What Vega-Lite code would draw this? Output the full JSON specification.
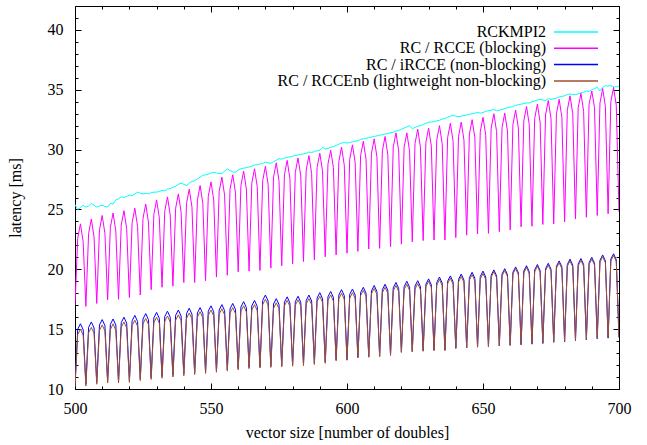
{
  "$schema": "https://vega.github.io/schema/vega-lite/v6.json",
  "width": 544,
  "height": 383,
  "autosize": {"type": "none"},
  "padding": {"left": 75, "top": 6, "right": 28, "bottom": 56},
  "background": "white",
  "config": {
    "view": {"stroke": "black", "strokeWidth": 1},
    "font": "Liberation Serif",
    "text": {"font": "Liberation Serif"},
    "axis": {"labelFont": "Liberation Serif", "labelFontSize": 16, "labelColor": "black", "titleFont": "Liberation Serif", "titleFontSize": 16, "titleFontWeight": "normal", "titleColor": "black", "domain": false, "grid": false, "tickColor": "black", "tickWidth": 1, "labelOverlap": false, "labelFlush": false},
    "legend": {"labelFont": "Liberation Serif", "labelLimit": 400}
  },
  "data": {"values": [
    {"x":500,"m":25.4,"r":17.0,"i":10.3,"n":10.15},
    {"x":501,"m":25.0,"r":22.6,"i":15.0,"n":14.55},
    {"x":502,"m":25.15,"r":23.8,"i":15.45,"n":15.0},
    {"x":503,"m":25.35,"r":22.3,"i":14.95,"n":14.5},
    {"x":504,"m":25.2,"r":16.9,"i":10.4,"n":10.25},
    {"x":505,"m":25.3,"r":23.0,"i":15.15,"n":14.7},
    {"x":506,"m":25.5,"r":24.2,"i":15.6,"n":15.15},
    {"x":507,"m":25.35,"r":22.7,"i":15.1,"n":14.65},
    {"x":508,"m":25.2,"r":17.15,"i":10.55,"n":10.4},
    {"x":509,"m":25.3,"r":23.3,"i":15.35,"n":14.9},
    {"x":510,"m":25.35,"r":24.5,"i":15.8,"n":15.35},
    {"x":511,"m":25.25,"r":23.0,"i":15.3,"n":14.85},
    {"x":512,"m":25.2,"r":17.45,"i":10.65,"n":10.5},
    {"x":513,"m":25.5,"r":23.5,"i":15.4,"n":14.95},
    {"x":514,"m":25.45,"r":24.7,"i":15.85,"n":15.45},
    {"x":515,"m":25.8,"r":23.2,"i":15.35,"n":14.9},
    {"x":516,"m":25.9,"r":17.5,"i":10.65,"n":10.5},
    {"x":517,"m":26.05,"r":23.7,"i":15.55,"n":15.15},
    {"x":518,"m":26.0,"r":24.9,"i":16.0,"n":15.6},
    {"x":519,"m":26.1,"r":23.4,"i":15.5,"n":15.1},
    {"x":520,"m":26.2,"r":17.65,"i":10.7,"n":10.55},
    {"x":521,"m":26.15,"r":23.9,"i":15.7,"n":15.3},
    {"x":522,"m":26.3,"r":25.1,"i":16.15,"n":15.75},
    {"x":523,"m":26.45,"r":23.6,"i":15.65,"n":15.25},
    {"x":524,"m":26.35,"r":17.85,"i":10.85,"n":10.7},
    {"x":525,"m":26.3,"r":24.25,"i":15.85,"n":15.45},
    {"x":526,"m":26.35,"r":25.45,"i":16.3,"n":15.9},
    {"x":527,"m":26.3,"r":23.95,"i":15.8,"n":15.4},
    {"x":528,"m":26.4,"r":18.3,"i":10.95,"n":10.8},
    {"x":529,"m":26.45,"r":24.6,"i":15.95,"n":15.55},
    {"x":530,"m":26.45,"r":25.8,"i":16.4,"n":16.0},
    {"x":531,"m":26.5,"r":24.3,"i":15.9,"n":15.5},
    {"x":532,"m":26.6,"r":18.5,"i":11.05,"n":10.9},
    {"x":533,"m":26.55,"r":24.85,"i":16.05,"n":15.65},
    {"x":534,"m":26.7,"r":26.05,"i":16.5,"n":16.1},
    {"x":535,"m":26.75,"r":24.55,"i":16.0,"n":15.6},
    {"x":536,"m":26.85,"r":18.6,"i":11.15,"n":11.0},
    {"x":537,"m":26.95,"r":25.1,"i":16.15,"n":15.75},
    {"x":538,"m":27.1,"r":26.3,"i":16.6,"n":16.2},
    {"x":539,"m":27.2,"r":24.8,"i":16.1,"n":15.7},
    {"x":540,"m":27.1,"r":18.9,"i":11.25,"n":11.1},
    {"x":541,"m":27.0,"r":25.5,"i":16.3,"n":15.9},
    {"x":542,"m":27.2,"r":26.7,"i":16.75,"n":16.35},
    {"x":543,"m":27.35,"r":25.2,"i":16.25,"n":15.85},
    {"x":544,"m":27.4,"r":18.9,"i":11.35,"n":11.2},
    {"x":545,"m":27.55,"r":25.8,"i":16.35,"n":16.0},
    {"x":546,"m":27.7,"r":27.0,"i":16.8,"n":16.45},
    {"x":547,"m":27.85,"r":25.5,"i":16.3,"n":15.95},
    {"x":548,"m":27.9,"r":19.05,"i":11.4,"n":11.3},
    {"x":549,"m":27.95,"r":26.1,"i":16.5,"n":16.15},
    {"x":550,"m":28.05,"r":27.3,"i":16.95,"n":16.6},
    {"x":551,"m":28.1,"r":25.8,"i":16.45,"n":16.1},
    {"x":552,"m":28.05,"r":19.35,"i":11.5,"n":11.4},
    {"x":553,"m":28.0,"r":26.5,"i":16.6,"n":16.25},
    {"x":554,"m":28.0,"r":27.7,"i":17.05,"n":16.7},
    {"x":555,"m":28.2,"r":26.2,"i":16.55,"n":16.2},
    {"x":556,"m":28.4,"r":19.5,"i":11.6,"n":11.5},
    {"x":557,"m":28.25,"r":26.7,"i":16.7,"n":16.35},
    {"x":558,"m":28.15,"r":27.9,"i":17.15,"n":16.8},
    {"x":559,"m":28.1,"r":26.4,"i":16.65,"n":16.3},
    {"x":560,"m":28.3,"r":19.8,"i":11.7,"n":11.6},
    {"x":561,"m":28.4,"r":27.0,"i":16.85,"n":16.5},
    {"x":562,"m":28.45,"r":28.2,"i":17.3,"n":16.95},
    {"x":563,"m":28.5,"r":26.7,"i":16.8,"n":16.45},
    {"x":564,"m":28.55,"r":19.85,"i":11.8,"n":11.7},
    {"x":565,"m":28.6,"r":27.2,"i":16.95,"n":16.6},
    {"x":566,"m":28.7,"r":28.4,"i":17.4,"n":17.05},
    {"x":567,"m":28.75,"r":26.9,"i":16.9,"n":16.55},
    {"x":568,"m":28.8,"r":19.9,"i":11.85,"n":11.75},
    {"x":569,"m":28.85,"r":27.4,"i":17.4,"n":17.05},
    {"x":570,"m":28.95,"r":28.6,"i":17.85,"n":17.5},
    {"x":571,"m":28.9,"r":27.1,"i":17.35,"n":17.0},
    {"x":572,"m":28.85,"r":20.1,"i":11.9,"n":11.8},
    {"x":573,"m":29.0,"r":27.7,"i":17.1,"n":16.75},
    {"x":574,"m":29.1,"r":28.9,"i":17.55,"n":17.2},
    {"x":575,"m":29.25,"r":27.4,"i":17.05,"n":16.7},
    {"x":576,"m":29.2,"r":20.3,"i":11.95,"n":11.85},
    {"x":577,"m":29.3,"r":27.9,"i":17.25,"n":16.95},
    {"x":578,"m":29.35,"r":29.1,"i":17.7,"n":17.4},
    {"x":579,"m":29.4,"r":27.6,"i":17.2,"n":16.9},
    {"x":580,"m":29.45,"r":20.45,"i":12.0,"n":11.9},
    {"x":581,"m":29.5,"r":28.1,"i":17.3,"n":17.0},
    {"x":582,"m":29.55,"r":29.3,"i":17.75,"n":17.45},
    {"x":583,"m":29.6,"r":27.8,"i":17.25,"n":16.95},
    {"x":584,"m":29.65,"r":20.65,"i":12.05,"n":11.95},
    {"x":585,"m":29.7,"r":28.3,"i":17.4,"n":17.1},
    {"x":586,"m":29.8,"r":29.5,"i":17.85,"n":17.55},
    {"x":587,"m":29.75,"r":28.0,"i":17.35,"n":17.05},
    {"x":588,"m":29.85,"r":20.8,"i":12.15,"n":12.05},
    {"x":589,"m":29.9,"r":28.5,"i":17.6,"n":17.3},
    {"x":590,"m":29.95,"r":29.7,"i":18.05,"n":17.75},
    {"x":591,"m":30.2,"r":28.2,"i":17.55,"n":17.25},
    {"x":592,"m":30.05,"r":21.05,"i":12.25,"n":12.15},
    {"x":593,"m":30.1,"r":28.8,"i":17.7,"n":17.4},
    {"x":594,"m":30.2,"r":29.95,"i":18.15,"n":17.85},
    {"x":595,"m":30.25,"r":28.5,"i":17.65,"n":17.35},
    {"x":596,"m":30.35,"r":21.2,"i":12.45,"n":12.35},
    {"x":597,"m":30.45,"r":29.0,"i":17.85,"n":17.55},
    {"x":598,"m":30.55,"r":30.2,"i":18.3,"n":18.0},
    {"x":599,"m":30.6,"r":28.7,"i":17.8,"n":17.5},
    {"x":600,"m":30.55,"r":21.35,"i":12.45,"n":12.4},
    {"x":601,"m":30.6,"r":29.2,"i":17.9,"n":17.6},
    {"x":602,"m":30.65,"r":30.4,"i":18.35,"n":18.05},
    {"x":603,"m":30.7,"r":28.9,"i":17.85,"n":17.55},
    {"x":604,"m":30.75,"r":21.5,"i":12.65,"n":12.6},
    {"x":605,"m":30.85,"r":29.5,"i":18.05,"n":17.8},
    {"x":606,"m":30.9,"r":30.7,"i":18.5,"n":18.25},
    {"x":607,"m":30.95,"r":29.2,"i":18.0,"n":17.75},
    {"x":608,"m":31.0,"r":21.7,"i":12.7,"n":12.65},
    {"x":609,"m":31.05,"r":29.7,"i":18.2,"n":17.95},
    {"x":610,"m":31.1,"r":30.9,"i":18.65,"n":18.4},
    {"x":611,"m":31.15,"r":29.4,"i":18.15,"n":17.9},
    {"x":612,"m":31.2,"r":21.75,"i":12.75,"n":12.7},
    {"x":613,"m":31.25,"r":29.9,"i":18.3,"n":18.05},
    {"x":614,"m":31.3,"r":31.1,"i":18.75,"n":18.5},
    {"x":615,"m":31.35,"r":29.6,"i":18.25,"n":18.0},
    {"x":616,"m":31.4,"r":21.9,"i":12.85,"n":12.8},
    {"x":617,"m":31.45,"r":30.2,"i":18.45,"n":18.2},
    {"x":618,"m":31.55,"r":31.4,"i":18.9,"n":18.65},
    {"x":619,"m":31.6,"r":29.9,"i":18.4,"n":18.15},
    {"x":620,"m":31.7,"r":22.1,"i":13.1,"n":13.05},
    {"x":621,"m":31.8,"r":30.2,"i":18.55,"n":18.3},
    {"x":622,"m":31.9,"r":31.4,"i":19.0,"n":18.75},
    {"x":623,"m":32.0,"r":29.9,"i":18.5,"n":18.25},
    {"x":624,"m":31.75,"r":22.3,"i":13.15,"n":13.1},
    {"x":625,"m":31.85,"r":30.5,"i":18.6,"n":18.35},
    {"x":626,"m":31.95,"r":31.7,"i":19.05,"n":18.8},
    {"x":627,"m":32.0,"r":30.2,"i":18.55,"n":18.3},
    {"x":628,"m":32.1,"r":22.4,"i":13.2,"n":13.15},
    {"x":629,"m":32.2,"r":30.6,"i":18.75,"n":18.55},
    {"x":630,"m":32.3,"r":31.8,"i":19.2,"n":19.0},
    {"x":631,"m":32.3,"r":30.3,"i":18.7,"n":18.5},
    {"x":632,"m":32.35,"r":22.45,"i":13.25,"n":13.2},
    {"x":633,"m":32.4,"r":30.8,"i":18.9,"n":18.7},
    {"x":634,"m":32.45,"r":32.0,"i":19.35,"n":19.15},
    {"x":635,"m":32.55,"r":30.5,"i":18.85,"n":18.65},
    {"x":636,"m":32.6,"r":22.45,"i":13.25,"n":13.2},
    {"x":637,"m":32.7,"r":31.0,"i":19.0,"n":18.8},
    {"x":638,"m":32.8,"r":32.2,"i":19.45,"n":19.25},
    {"x":639,"m":32.85,"r":30.7,"i":18.95,"n":18.75},
    {"x":640,"m":32.8,"r":22.65,"i":13.4,"n":13.4},
    {"x":641,"m":32.75,"r":31.1,"i":19.15,"n":18.95},
    {"x":642,"m":32.8,"r":32.3,"i":19.6,"n":19.4},
    {"x":643,"m":32.85,"r":30.8,"i":19.1,"n":18.9},
    {"x":644,"m":32.9,"r":22.85,"i":13.45,"n":13.45},
    {"x":645,"m":32.95,"r":31.3,"i":19.3,"n":19.1},
    {"x":646,"m":33.0,"r":32.5,"i":19.75,"n":19.55},
    {"x":647,"m":33.05,"r":31.0,"i":19.25,"n":19.05},
    {"x":648,"m":33.1,"r":22.95,"i":13.5,"n":13.5},
    {"x":649,"m":33.05,"r":31.5,"i":19.4,"n":19.2},
    {"x":650,"m":33.1,"r":32.7,"i":19.85,"n":19.65},
    {"x":651,"m":33.2,"r":31.2,"i":19.35,"n":19.15},
    {"x":652,"m":33.25,"r":23.0,"i":13.55,"n":13.55},
    {"x":653,"m":33.3,"r":31.8,"i":19.5,"n":19.35},
    {"x":654,"m":33.35,"r":33.0,"i":19.95,"n":19.8},
    {"x":655,"m":33.25,"r":31.5,"i":19.45,"n":19.3},
    {"x":656,"m":33.3,"r":23.15,"i":13.6,"n":13.6},
    {"x":657,"m":33.35,"r":31.85,"i":19.6,"n":19.45},
    {"x":658,"m":33.45,"r":33.05,"i":20.05,"n":19.9},
    {"x":659,"m":33.5,"r":31.55,"i":19.55,"n":19.4},
    {"x":660,"m":33.55,"r":23.3,"i":13.65,"n":13.65},
    {"x":661,"m":33.6,"r":32.1,"i":19.75,"n":19.6},
    {"x":662,"m":33.7,"r":33.3,"i":20.2,"n":20.05},
    {"x":663,"m":33.75,"r":31.8,"i":19.7,"n":19.55},
    {"x":664,"m":33.8,"r":23.55,"i":13.7,"n":13.7},
    {"x":665,"m":33.85,"r":32.4,"i":19.85,"n":19.7},
    {"x":666,"m":33.9,"r":33.6,"i":20.3,"n":20.15},
    {"x":667,"m":33.9,"r":32.1,"i":19.8,"n":19.65},
    {"x":668,"m":34.0,"r":23.6,"i":13.75,"n":13.75},
    {"x":669,"m":34.05,"r":32.6,"i":19.95,"n":19.8},
    {"x":670,"m":34.15,"r":33.8,"i":20.4,"n":20.25},
    {"x":671,"m":34.2,"r":32.3,"i":19.9,"n":19.75},
    {"x":672,"m":34.15,"r":23.75,"i":13.8,"n":13.85},
    {"x":673,"m":34.1,"r":32.9,"i":20.05,"n":19.9},
    {"x":674,"m":34.25,"r":34.1,"i":20.5,"n":20.35},
    {"x":675,"m":34.2,"r":32.6,"i":20.0,"n":19.85},
    {"x":676,"m":34.25,"r":23.8,"i":13.9,"n":13.95},
    {"x":677,"m":34.3,"r":33.0,"i":20.25,"n":20.1},
    {"x":678,"m":34.4,"r":34.2,"i":20.7,"n":20.55},
    {"x":679,"m":34.45,"r":32.7,"i":20.2,"n":20.05},
    {"x":680,"m":34.5,"r":23.95,"i":13.95,"n":14.0},
    {"x":681,"m":34.6,"r":33.3,"i":20.4,"n":20.25},
    {"x":682,"m":34.65,"r":34.5,"i":20.85,"n":20.7},
    {"x":683,"m":34.6,"r":33.0,"i":20.35,"n":20.2},
    {"x":684,"m":34.6,"r":24.2,"i":14.05,"n":14.1},
    {"x":685,"m":34.65,"r":33.5,"i":20.45,"n":20.3},
    {"x":686,"m":34.75,"r":34.7,"i":20.9,"n":20.75},
    {"x":687,"m":34.8,"r":33.2,"i":20.4,"n":20.25},
    {"x":688,"m":34.9,"r":24.35,"i":14.1,"n":14.15},
    {"x":689,"m":34.85,"r":33.8,"i":20.55,"n":20.4},
    {"x":690,"m":35.0,"r":34.9,"i":21.0,"n":20.85},
    {"x":691,"m":35.1,"r":33.5,"i":20.5,"n":20.35},
    {"x":692,"m":35.2,"r":24.5,"i":14.2,"n":14.25},
    {"x":693,"m":34.9,"r":33.9,"i":20.75,"n":20.6},
    {"x":694,"m":35.2,"r":35.1,"i":21.2,"n":21.05},
    {"x":695,"m":35.35,"r":33.6,"i":20.7,"n":20.55},
    {"x":696,"m":35.3,"r":24.65,"i":14.25,"n":14.3},
    {"x":697,"m":35.35,"r":34.0,"i":20.85,"n":20.7},
    {"x":698,"m":35.25,"r":35.2,"i":21.3,"n":21.15},
    {"x":699,"m":35.25,"r":33.7,"i":20.8,"n":20.65},
    {"x":700,"m":35.3,"r":24.8,"i":14.3,"n":14.35}
  ]},
  "transform": [{"fold": ["m", "r", "i", "n"], "as": ["series", "latency"]}],
  "layer": [
    {
      "mark": {"type": "line", "strokeWidth": 1, "clip": true},
      "encoding": {
        "x": {"field": "x", "type": "quantitative", "scale": {"domain": [500, 700], "nice": false, "zero": false},
          "axis": {"orient": "bottom", "values": [500,510,520,530,540,550,560,570,580,590,600,610,620,630,640,650,660,670,680,690,700],
            "labelExpr": "datum.value % 50 === 0 ? datum.label : ''",
            "tickSize": {"condition": {"test": "datum.value % 50 === 0", "value": -6}, "value": -3},
            "labelFont": "Liberation Serif", "titleFont": "Liberation Serif",
            "labelPadding": 17, "title": "vector size [number of doubles]", "titlePadding": 5}},
        "y": {"field": "latency", "type": "quantitative", "scale": {"domain": [10, 42], "nice": false, "zero": false},
          "axis": {"orient": "left", "values": [10,11,12,13,14,15,16,17,18,19,20,21,22,23,24,25,26,27,28,29,30,31,32,33,34,35,36,37,38,39,40,41,42],
            "labelExpr": "datum.value % 5 === 0 ? datum.label : ''",
            "tickSize": {"condition": {"test": "datum.value % 5 === 0", "value": -6}, "value": -3},
            "labelFont": "Liberation Serif", "titleFont": "Liberation Serif",
            "labelPadding": 18, "title": "latency [ms]", "titlePadding": 24}},
        "color": {"field": "series", "type": "nominal",
          "scale": {"domain": ["m", "r", "i", "n"], "range": ["#00ffff", "#ff00ff", "#0000ff", "#a0522d"]},
          "legend": {"orient": "top-right", "title": null,
            "labelExpr": "datum.label === 'm' ? 'RCKMPI2' : datum.label === 'r' ? 'RC / RCCE (blocking)' : datum.label === 'i' ? 'RC / iRCCE (non-blocking)' : 'RC / RCCEnb (lightweight non-blocking)'",
            "labelAlign": "right", "labelOffset": -16, "symbolOffset": 0,
            "symbolType": "M0,0H8", "symbolSize": 121, "symbolStrokeWidth": 1.5,
            "labelFont": "Liberation Serif", "labelFontSize": 16, "labelColor": "black", "labelLimit": 400,
            "rowPadding": 0.3, "offset": 18, "gridAlign": "none"}}
      }
    },
    {
      "mark": {"type": "line", "opacity": 0},
      "encoding": {
        "x": {"field": "x", "type": "quantitative",
          "axis": {"orient": "top", "values": [500,510,520,530,540,550,560,570,580,590,600,610,620,630,640,650,660,670,680,690,700], "labels": false, "title": null,
            "tickSize": {"condition": {"test": "datum.value % 50 === 0", "value": -6}, "value": -3}}},
        "y": {"field": "latency", "type": "quantitative",
          "axis": {"orient": "right", "values": [10,11,12,13,14,15,16,17,18,19,20,21,22,23,24,25,26,27,28,29,30,31,32,33,34,35,36,37,38,39,40,41,42], "labels": false, "title": null,
            "tickSize": {"condition": {"test": "datum.value % 5 === 0", "value": -6}, "value": -3}}},
        "detail": {"field": "series"}
      }
    }
  ],
  "resolve": {"axis": {"x": "independent", "y": "independent"}}
}
